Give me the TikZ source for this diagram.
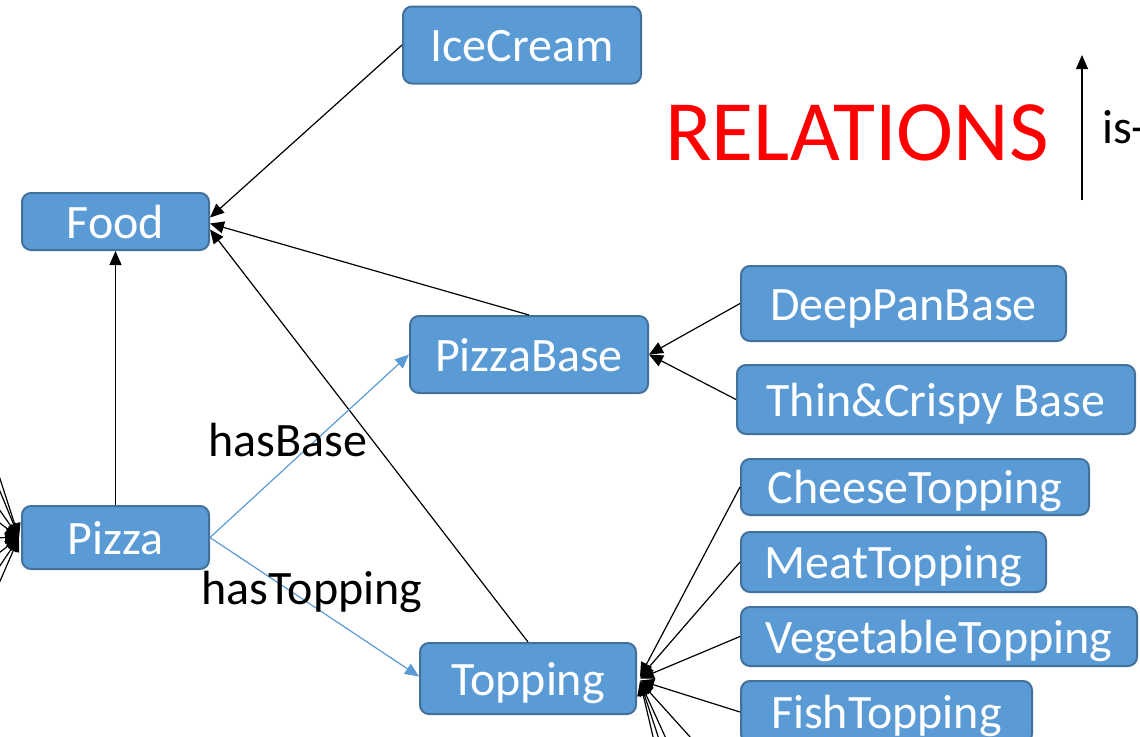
\documentclass[tikz,border=0pt]{standalone}
\usepackage{fontspec}
\setmainfont{Carlito}
\usetikzlibrary{arrows.meta}
\definecolor{boxfill}{RGB}{91,155,213}
\definecolor{boxline}{RGB}{65,113,156}
\definecolor{relred}{RGB}{255,0,0}
\begin{document}
\begin{tikzpicture}[x=1pt,y=-1pt,
  cls/.style={draw=boxline, line width=2pt, fill=boxfill, rounded corners=9pt, text=white,
              font=\fontsize{48}{52}\selectfont, inner sep=0pt, text height=33pt, text depth=0pt},
  isa/.style={line width=1.2pt, -{Triangle[length=14pt,width=12pt]}},
  rel/.style={draw=boxfill, line width=1.2pt, -{Triangle[length=14pt,width=12pt]}, color=boxfill},
  lbl/.style={font=\fontsize{48}{52}\selectfont, inner sep=0pt}]
\useasboundingbox (0,0) rectangle (1140,736);
\clip (0,0) rectangle (1140,736);
\fill[white] (0,0) rectangle (1140,736);

% classes
\node[cls, minimum width=238pt, minimum height=77pt] (ice) at (522,45) {IceCream};
\node[cls, minimum width=187pt, minimum height=57pt] (food) at (115.5,221.5) {Food};
\node[cls, minimum width=238pt, minimum height=77pt] (base) at (529,354.5) {PizzaBase};
\node[cls, minimum width=325pt, minimum height=75pt] (deep) at (903.5,303.5) {DeepPanBase};
\node[cls, minimum width=398pt, minimum height=69pt] (thin) at (936,399.5) {Thin\&Crispy Base};
\node[cls, minimum width=187pt, minimum height=63pt] (pizza) at (115.5,537.5) {Pizza};
\node[cls, minimum width=348pt, minimum height=56pt] (cheese) at (915,487) {CheeseTopping};
\node[cls, minimum width=305pt, minimum height=60pt] (meat) at (893.5,562) {MeatTopping};
\node[cls, minimum width=396pt, minimum height=59pt] (veg) at (939,636.5) {VegetableTopping};
\node[cls, minimum width=291pt, minimum height=62pt] (fish) at (886.5,712) {FishTopping};
\node[cls, minimum width=216pt, minimum height=71pt] (top) at (528,678.5) {Topping};

% legend
\node[font=\fontsize{86}{90}\selectfont, text=relred, inner sep=0pt] (relations) at (857,133) {RELATIONS};
\coordinate (legA) at (1082,200);
\coordinate (legB) at (1082,55);
\draw[isa] (legA) -- (legB);
\node[lbl, anchor=west] (isalbl) at (1102,127) {is-};

% is-a connectors
\draw[isa] (ice.west) -- ([yshift=4pt]food.east);
\draw[isa] (base.north) -- ([yshift=-2pt]food.east);
\draw[isa] (top.north) -- ([yshift=-8pt]food.east);
\draw[isa] (pizza.north) -- (food.south);
\draw[isa] (deep.west) -- (base.east);
\draw[isa] (thin.west) -- (base.east);
\draw[isa] (cheese.west) -- ([xshift=3pt,yshift=2pt]top.east);
\draw[isa] (meat.west) -- ([xshift=3pt,yshift=1pt]top.east);
\draw[isa] (veg.west) -- ([xshift=3pt]top.east);
\draw[isa] (fish.west) -- ([xshift=3pt,yshift=-2pt]top.east);

% subclasses outside the frame
\coordinate (t1) at (668,800);
\coordinate (t2) at (679,800);
\coordinate (t3) at (694,800);
\coordinate (t4) at (747,800);
\foreach \c in {t1,t2,t3,t4} \draw[isa] (\c) -- ([xshift=3pt,yshift=-3pt]top.east);

\coordinate (p1) at (-40,355);
\coordinate (p2) at (-40,394);
\coordinate (p3) at (-40,454);
\coordinate (p4) at (-40,493);
\coordinate (p5) at (-40,538);
\coordinate (p6) at (-40,583);
\coordinate (p7) at (-40,625);
\coordinate (p8) at (-40,673);
\foreach \c in {p1,p2,p3,p4,p5,p6,p7,p8} \draw[isa] (\c) -- ([xshift=-2pt]pizza.west);

% object properties
\draw[rel] (pizza.east) -- (base.west);
\draw[rel] (pizza.east) -- ([yshift=2pt]top.west);
\node[lbl] (hasbase) at (288,440) {hasBase};
\node[lbl] (hastop) at (312,592) {hasTopping};
\end{tikzpicture}
\end{document}
